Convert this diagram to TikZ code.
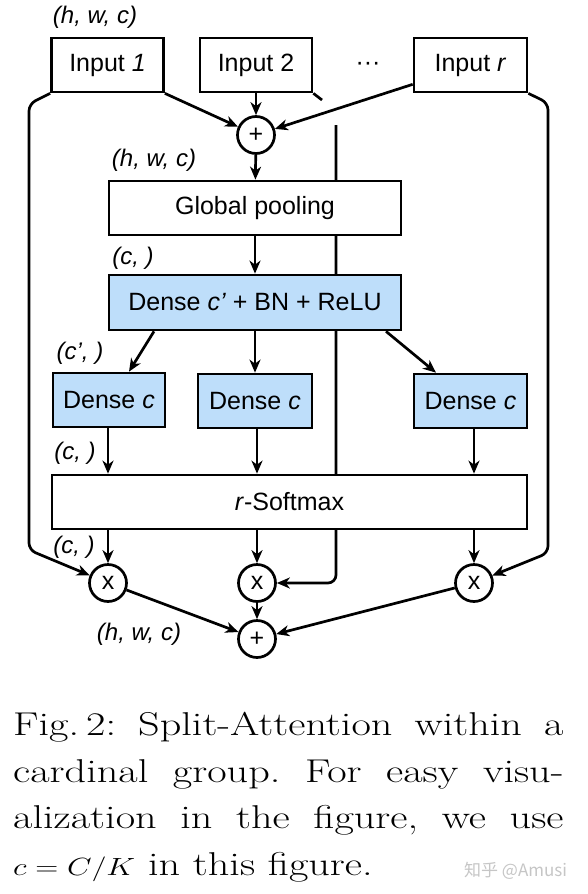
\documentclass[tikz,border=0pt]{standalone}
\usepackage{fontspec}
\usepackage{tikz}
\usetikzlibrary{arrows.meta,backgrounds}
\newfontfamily\diagfont{Liberation Sans}
\newfontfamily\cjkfont{Noto Sans CJK SC}
\definecolor{denseblue}{RGB}{190,222,250}
\newcommand\capline[1]{\scalebox{1.28}[1]{\makebox[430pt][s]{#1}}}
\frenchspacing
\tikzset{
  blockbox/.style={draw, line width=2.7pt, fill=white, inner sep=0pt, minimum height=54pt, font=\diagfont\fontsize{25}{30}\selectfont},
  densebox/.style={blockbox, fill=denseblue},
  opnode/.style={draw, circle, line width=2.7pt, fill=white, minimum size=37pt, inner sep=0pt, font=\diagfont\fontsize{25}{28}\selectfont},
  shapelabel/.style={font=\diagfont\itshape\fontsize{24}{28}\selectfont, inner sep=0pt},
  arr/.style={line width=2.7pt, -{Stealth[length=13pt,width=11pt,inset=4pt]}},
  wire/.style={line width=2.7pt},
  captionline/.style={font=\fontsize{33}{46}\selectfont, inner sep=0pt, anchor=base west}
}

\begin{document}
\begin{tikzpicture}[x=1pt,y=-1pt]
            \useasboundingbox (0,0) rectangle (587,894);
            % coordinates
            \coordinate (lb-top) at (29,104);
            \coordinate (lb-bot) at (29,550);
            \coordinate (rb-top) at (548,103);
            \coordinate (rb-bot) at (548,553);
            \coordinate (mid-stub) at (322,100);
            \coordinate (mid-top) at (336,125);
            % inputs
            \node[blockbox, minimum width=112pt] (in1) at (107.5,65) {Input \textit{1}};
            \node[blockbox, minimum width=112pt] (in2) at (256,65) {Input 2};
            \node[blockbox, minimum width=113pt] (inr) at (470.5,65) {Input \textit{r}};
            \node[font=\diagfont\fontsize{25}{30}\selectfont] (dots) at (368,66) {···};
            % sum and pooling
            \node[opnode] (plus1) at (256,135) {+};
            \node[blockbox, minimum width=292pt] (gp) at (255,208) {Global pooling};
            \node[densebox, minimum width=292pt, minimum height=55pt] (dcp) at (255,302.5) {Dense \textit{c’} + BN + ReLU};
            % dense branches
            \node[densebox, minimum width=112pt] (d1) at (109,400) {Dense \textit{c}};
            \node[densebox, minimum width=114pt] (d2) at (255,401) {Dense \textit{c}};
            \node[densebox, minimum width=113pt] (d3) at (470.5,401) {Dense \textit{c}};
            \node[blockbox, minimum width=475pt] (sm) at (289.5,502) {\textit{r}-Softmax};
            % products and output sum
            \node[opnode] (mul1) at (108,583) {x};
            \node[opnode] (mul2) at (257,583) {x};
            \node[opnode] (mul3) at (474,583) {x};
            \node[opnode] (plus2) at (257,639) {+};
            % shape labels
            \node[shapelabel] (lbl-in) at (95,17) {(h, w, c)};
            \node[shapelabel] (lbl-sum) at (154,160) {(h, w, c)};
            \node[shapelabel] (lbl-gp) at (133,258) {(c, )};
            \node[shapelabel] (lbl-dcp) at (80,353) {(c’, )};
            \node[shapelabel] (lbl-d) at (75,453) {(c, )};
            \node[shapelabel] (lbl-sm) at (74,547) {(c, )};
            \node[shapelabel] (lbl-out) at (139,634) {(h, w, c)};
            % inputs -> sum
            \draw[arr] (in1.south east) -- (plus1);
            \draw[arr] (in2.south) -- (plus1);
            \draw[arr] ([yshift=9pt]inr.south west) -- (plus1);
            \draw[arr] (plus1) -- (gp);
            \draw[arr] (gp) -- (dcp);
            % dense c' -> dense c
            \draw[arr] ([xshift=-101pt]dcp.south) -- ([xshift=20pt]d1.north);
            \draw[arr] (dcp.south -| d2.north) -- (d2.north);
            \draw[arr] ([xshift=131pt]dcp.south) -- ([xshift=-34.5pt]d3.north);
            % dense c -> softmax -> products
            \foreach \b/\m in {d1/mul1, d2/mul2, d3/mul3} {
              \draw[arr] (\m |- \b.south) -- (\m |- sm.north);
              \draw[arr] (\m |- sm.south) -- (\m);
              \draw[arr] (\m) -- (plus2);
            }
            % bypass of the inputs
            \draw[arr, rounded corners=7pt] (in1.south west) -- (lb-top) -- (lb-bot) -- (mul1);
            \draw[arr, rounded corners=7pt] (inr.south east) -- (rb-top) -- (rb-bot) -- (mul3);
            \draw[wire] (in2.south east) -- (mid-stub);
            \begin{scope}[on background layer]
              \fill[white] (0,0) rectangle (587,894);
              \draw[arr, rounded corners=8pt] (mid-top) |- (mul2);
            \end{scope}
            % caption
            \node[captionline] (cap1) at (13,735) {\capline{Fig.\,2: Split-Attention within a}};
            \node[captionline] (cap2) at (13,782) {\capline{cardinal group. For easy visu-}};
            \node[captionline] (cap3) at (13,828) {\capline{alization in the figure, we use}};
            \node[captionline] (cap4) at (13,875) {\scalebox{1.28}[1]{$c=C/K$ in this figure.}};
            \node[font=\cjkfont\fontsize{17}{17}\selectfont, text=gray!45, inner sep=0pt, anchor=base west] (mark) at (464,876) {知乎 @Amusi};
\end{tikzpicture}
\end{document}
